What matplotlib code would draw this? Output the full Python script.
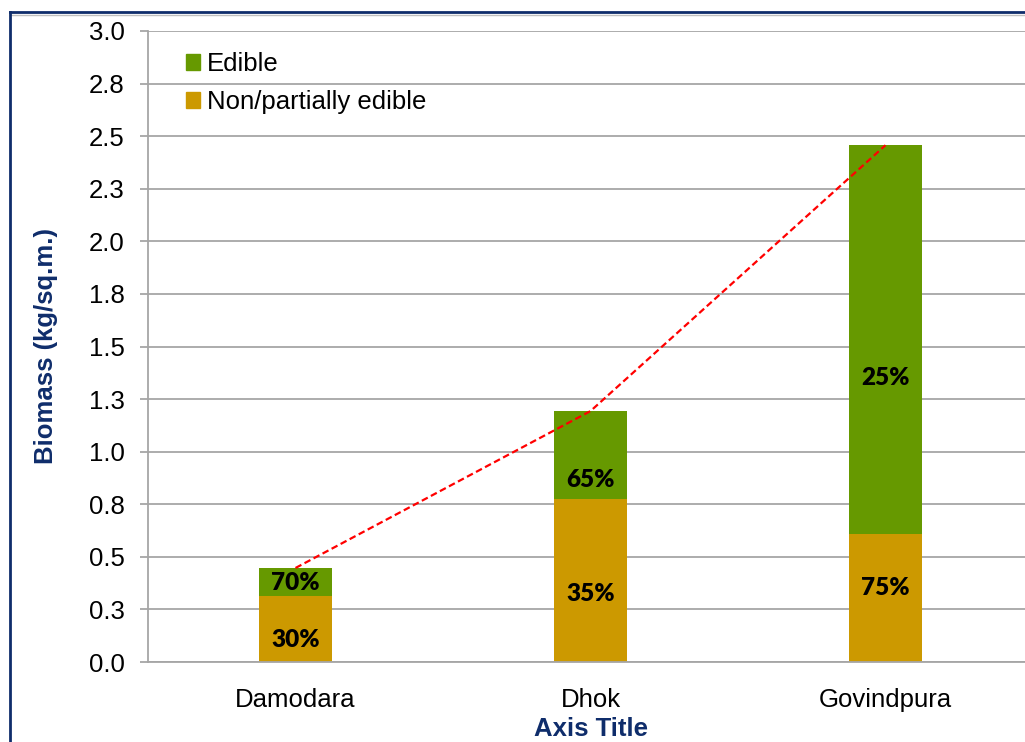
import matplotlib
import matplotlib.pyplot as plt
from matplotlib.lines import Line2D
from matplotlib.patches import Rectangle

matplotlib.use("Agg")

# values
SITES = ["Damodara", "Dhok", "Govindpura"]
NON_EDIBLE = [0.314, 0.775, 0.609]
EDIBLE = [0.133, 0.418, 1.848]
NON_EDIBLE_PCT = ["30%", "35%", "75%"]
EDIBLE_PCT = ["70%", "65%", "25%"]

Y_TICKS = [0.0, 0.25, 0.5, 0.75, 1.0, 1.25, 1.5, 1.75, 2.0, 2.25, 2.5, 2.75, 3.0]
Y_TICK_LABELS = ["0.0", "0.3", "0.5", "0.8", "1.0", "1.3", "1.5", "1.8",
                 "2.0", "2.3", "2.5", "2.8", "3.0"]

# where each percent label sits inside its segment (fraction of segment height)
NON_EDIBLE_LABEL_FRAC = [0.33, 0.42, 0.58]
EDIBLE_LABEL_FRAC = [0.47, 0.22, 0.40]

GREEN = "#669900"
GOLD = "#cc9900"
NAVY = "#0f2d6b"
GRID = "#a6a6a6"
FONT = "Liberation Sans"

fig = plt.figure(figsize=(10.25, 7.42), dpi=100)
ax = fig.add_axes([148 / 1025, 80 / 742, 885 / 1025, 631 / 742])

x = list(range(len(SITES)))
totals = [n + e for n, e in zip(NON_EDIBLE, EDIBLE)]

ax.bar(x, NON_EDIBLE, width=0.25, color=GOLD, zorder=2, label="Non/partially edible")
ax.bar(x, EDIBLE, width=0.25, bottom=NON_EDIBLE, color=GREEN, zorder=2, label="Edible")
ax.plot(x, totals, color="#ff0000", lw=1.6, dashes=(3, 1.6), zorder=3)

for i in x:
    ax.text(i, NON_EDIBLE[i] * NON_EDIBLE_LABEL_FRAC[i], NON_EDIBLE_PCT[i],
            ha="center", va="center", fontsize=17.5, fontweight="heavy",
            family="Lato", color="black", zorder=4)
    ax.text(i, NON_EDIBLE[i] + EDIBLE[i] * EDIBLE_LABEL_FRAC[i], EDIBLE_PCT[i],
            ha="center", va="center", fontsize=17.5, fontweight="heavy",
            family="Lato", color="black", zorder=4)

ax.set_xlim(-0.5, 2.5)
ax.set_ylim(0, 3.0)
ax.set_yticks(Y_TICKS)
ax.set_yticklabels(Y_TICK_LABELS, family=FONT, fontsize=18.5)
ax.set_xticks(x)
ax.set_xticklabels(SITES, family=FONT, fontsize=18.5)
ax.tick_params(axis="y", length=6, width=1.3, color=GRID, direction="out", pad=11)
ax.tick_params(axis="x", length=0, pad=19)

ax.grid(axis="y", color=GRID, lw=1.3, zorder=0)
ax.set_axisbelow(True)
for side in ["top", "right"]:
    ax.spines[side].set_visible(False)
for side in ["left", "bottom"]:
    ax.spines[side].set_color(GRID)
    ax.spines[side].set_linewidth(1.3)

ax.set_ylabel("Biomass (kg/sq.m.)", family=FONT, fontsize=18.5,
              fontweight="bold", color=NAVY)
ax.yaxis.set_label_coords((58 - 148) / 885, 0.5)
ax.set_xlabel("Axis Title", family=FONT, fontsize=18.5, fontweight="bold",
              color=NAVY, labelpad=3)

handles = [
    Rectangle((0, 0), 1, 1, color=GREEN),
    Rectangle((0, 0), 1, 1, color=GOLD),
]
ax.legend(handles, ["Edible", "Non/partially edible"], loc="upper left",
          bbox_to_anchor=((186 - 148) / 885, 1 - (52 - 31) / 631),
          frameon=False, prop={"family": FONT, "size": 18.5},
          handlelength=0.55, handleheight=0.55, handletextpad=0.28,
          labelspacing=0.55, borderpad=0, borderaxespad=0)

# outer chart frame
fig.add_artist(Line2D([10 / 1025, 1], [1 - 12 / 742, 1 - 12 / 742],
                      color=NAVY, lw=2, transform=fig.transFigure))
fig.add_artist(Line2D([10 / 1025, 1], [1 - 15 / 742, 1 - 15 / 742],
                      color="#bfbfbf", lw=1, transform=fig.transFigure))
fig.add_artist(Line2D([10 / 1025, 10 / 1025], [0, 1 - 12 / 742],
                      color=NAVY, lw=2, transform=fig.transFigure))

fig.savefig("out.png", dpi=100)
plt.close(fig)
